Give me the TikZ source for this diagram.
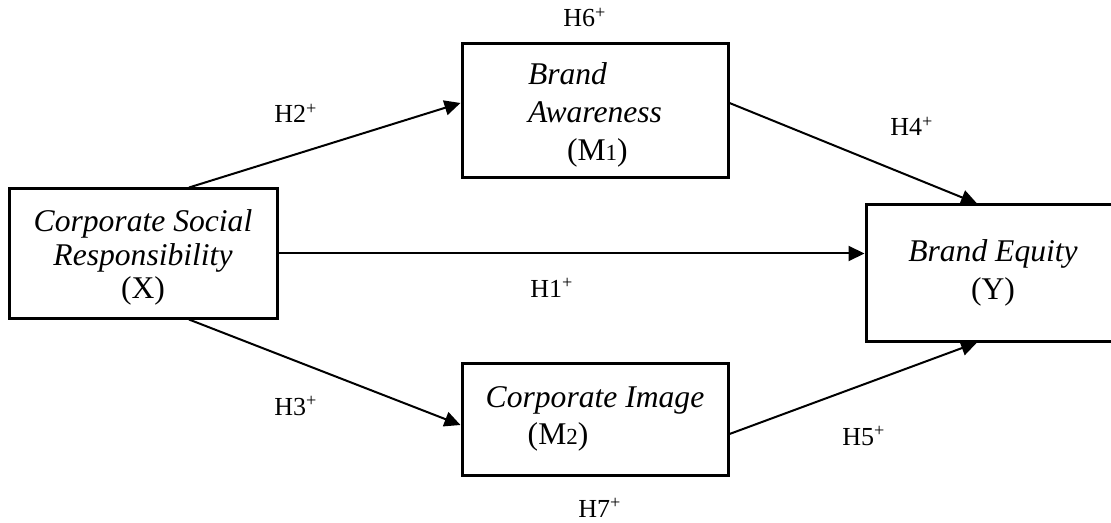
\documentclass[tikz,border=0pt]{standalone}
\usepackage{fontspec}
\setmainfont{Liberation Serif}
\usetikzlibrary{arrows.meta}
\tikzset{box/.style={draw, line width=1.5pt, inner sep=0pt, align=center},
 boxtext/.style={font=\fontsize{15.8}{#1}\selectfont},
 hyp/.style={font=\fontsize{13}{13}\selectfont, inner sep=0pt, anchor=base west},
 link/.style={draw, line width=1pt, -{Triangle[length=8pt,width=7.5pt]}},
 }
\newcommand{\sm}[1]{{\fontsize{11.5}{11.5}\selectfont #1}}

\begin{document}
\begin{tikzpicture}[x=0.5pt,y=-0.5pt]
        \clip (0,0) rectangle (1111,523);
        % variables
        \node[box, boxtext=16.8, minimum width=134pt, minimum height=64.5pt] (x) at (143,253.5)
            {\rule{0pt}{15pt}\textit{Corporate Social}\\ \textit{Responsibility}\\ (X)};
        \node[box, boxtext=19, align=left, minimum width=133pt, minimum height=67pt] (m1) at (595,111)
            {\rule{0pt}{15pt}\textit{Brand}\\ \textit{Awareness}\\ \hspace*{19.5pt}(M\sm{1})};
        \node[box, boxtext=18.5, align=left, minimum width=133pt, minimum height=56pt] (m2) at (595,419)
            {\textit{Corporate Image}\\ \hspace*{21pt}(M\sm{2})};
        \node[box, boxtext=19, minimum width=127pt, minimum height=68pt] (y) at (993,273)
            {\textit{Brand Equity}\\ (Y)};
        % paths
        \draw[link] ([xshift=23pt]x.north) -- ([yshift=4pt]m1.west);
        \draw[link] ([xshift=23pt]x.south) -- ([yshift=-3pt]m2.west);
        \draw[link] (x.east) -- (x.east -| y.west);
        \draw[link] ([yshift=4pt]m1.east) -- ([xshift=-8pt]y.north);
        \draw[link] ([yshift=-7.5pt]m2.east) -- ([xshift=-8pt]y.south);
        % hypotheses
        \node[hyp] (h1) at (530,297) {H1\textsuperscript{+}};
        \node[hyp] (h2) at (274,123) {H2\textsuperscript{+}};
        \node[hyp] (h3) at (274,415) {H3\textsuperscript{+}};
        \node[hyp] (h4) at (890,136) {H4\textsuperscript{+}};
        \node[hyp] (h5) at (842,445) {H5\textsuperscript{+}};
        \node[hyp] (h6) at (563,27) {H6\textsuperscript{+}};
        \node[hyp] (h7) at (578,517) {H7\textsuperscript{+}};
\end{tikzpicture}
\end{document}
